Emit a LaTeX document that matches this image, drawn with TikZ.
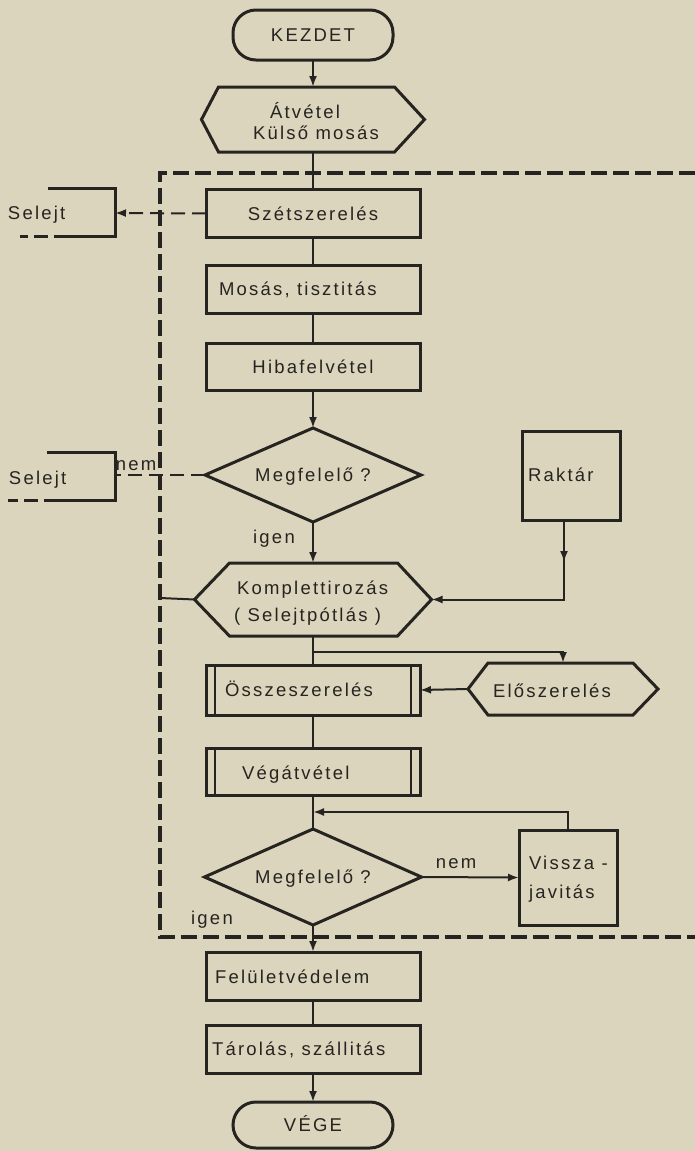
\documentclass[tikz,border=0pt]{standalone}
\usepackage{fontspec}
\setmainfont{Liberation Sans}[LetterSpace=12]
\usetikzlibrary{arrows.meta,shapes.geometric}
\definecolor{paper}{RGB}{220,213,189}
\definecolor{ink}{RGB}{38,36,32}
\begin{document}
\begin{tikzpicture}[x=1pt,y=-1pt,
  every node/.style={font=\fontsize{18.5}{22}\selectfont, text=ink, text height=13pt, text depth=0pt, inner sep=0pt, outer sep=0pt},
  boxn/.style={draw=ink, line width=3pt, rectangle, minimum width=214pt, minimum height=48pt},
  hexn/.style={draw=none, rectangle},
  dia/.style={draw=ink, line width=3pt, diamond, aspect=2.3},
  term/.style={draw=ink, line width=3pt, rectangle, rounded corners=23pt, minimum width=160pt},
  outline/.style={draw=ink, line width=3pt, line join=miter},
  conn/.style={draw=ink, line width=2pt},
  arr/.style={conn, -{Latex[length=11pt,width=8pt]}},
  dconn/.style={conn, dash pattern=on 14pt off 7pt},
  darr/.style={dconn, -{Latex[length=11pt,width=8pt]}},
  region/.style={draw=ink, line width=3.2pt, dash pattern=on 16pt off 6pt},
  lbl/.style={anchor=west}
]
\fill[paper] (0,0) rectangle (695,1151);
\useasboundingbox (0,0) rectangle (695,1151);

% dashed region
\draw[region] (695,173) -- (160,173) -- (160,937) -- (695,937);

% terminals
\node[term, minimum height=50pt] (kez) at (313,35) {KEZDET};
\node[term, minimum height=46pt] (vege) at (313,1125) {VÉGE};

% Atvetel hexagon
\node[hexn, minimum width=223pt, minimum height=65pt] (atv) at (313,119.5) {};
\draw[outline] (atv.west) -- ([xshift=17pt]atv.north west) -- ([xshift=-30pt]atv.north east) -- (atv.east) -- ([xshift=-30pt]atv.south east) -- ([xshift=17pt]atv.south west) -- cycle;
\node (t-atv1) at (305,112) {Átvétel};
\node (t-atv2) at (316,133) {Külső mosás};

% boxes
\node[boxn] (szet) at (313,213.5) {Szétszerelés};
\node[boxn] (mosas) at (313,289) {};
\node[lbl] (t-mosas) at (219,289) {Mosás, tisztitás};
\node[boxn, minimum height=47pt] (hiba) at (313,366.5) {Hibafelvétel};

% decision 1
\node[dia, minimum width=216pt, minimum height=94pt] (m1) at (313,475) {Megfelelő ?};
\node (t-igen1) at (274,537) {igen};

% Selejt 1
\coordinate (s1) at (115,213);
\draw[outline] (48,188) -- (115,188) -- (115,236) -- (68,236);
\draw[outline, dash pattern=on 14pt off 6pt] (68,236) -- (20,236);
\node[lbl] (t-sel1) at (8,213) {Selejt};
\draw[darr] (szet.west) -- (s1);

% Selejt 2
\coordinate (s2) at (115,475);
\draw[outline] (47,452) -- (115,452) -- (115,500) -- (58,500);
\draw[outline, dash pattern=on 14pt off 6pt] (58,500) -- (8,500);
\node[lbl] (t-sel2) at (9,478) {Selejt};
\node (t-nem1) at (136,464) {nem};
\draw[dconn] (m1.west) -- (s2);

% Raktar
\node[draw=ink, line width=3pt, rectangle, minimum width=98pt, minimum height=89pt] (raktar) at (571,475.5) {};
\node[lbl] (t-raktar) at (528,475) {Raktár};

% Komplettirozas hexagon
\node[hexn, minimum width=237pt, minimum height=73pt] (komp) at (313,599.5) {};
\draw[outline] (komp.west) -- ([xshift=35pt]komp.north west) -- ([xshift=-34pt]komp.north east) -- (komp.east) -- ([xshift=-34pt]komp.south east) -- ([xshift=35pt]komp.south west) -- cycle;
\node[lbl] (t-komp1) at (237,588) {Komplettirozás};
\node[lbl] (t-komp2) at (234,615) {( Selejtpótlás )};

\coordinate (rk) at ([xshift=-7pt]raktar.south);
\coordinate (rl) at (160,598);
\draw[arr] (rk) -- ++(0,42);
\draw[arr] (rk) |- (komp.east);
\draw[conn] (rl) -- (komp.west);

% Osszeszereles
\node[boxn, minimum height=50pt] (osz) at (313,690) {};
\draw[conn] ([xshift=9pt]osz.north west) -- ([xshift=9pt]osz.south west);
\draw[conn] ([xshift=-9pt]osz.north east) -- ([xshift=-9pt]osz.south east);
\node[lbl] (t-osz) at (225,690) {Összeszerelés};

% Eloszereles hexagon
\node[hexn, minimum width=190pt, minimum height=52pt] (elo) at (563,689) {};
\draw[outline] (elo.west) -- ([xshift=20pt]elo.north west) -- ([xshift=-25pt]elo.north east) -- (elo.east) -- ([xshift=-25pt]elo.south east) -- ([xshift=20pt]elo.south west) -- cycle;
\node (t-elo) at (552,691) {Előszerelés};

\coordinate (br) at (313,652);
\draw[arr] (br) -| (elo.north);
\draw[arr] (elo.west) -- (osz.east);

% Vegatvetel
\node[boxn, minimum height=47pt] (veg) at (313,771.5) {};
\draw[conn] ([xshift=9pt]veg.north west) -- ([xshift=9pt]veg.south west);
\draw[conn] ([xshift=-9pt]veg.north east) -- ([xshift=-9pt]veg.south east);
\node[lbl] (t-veg) at (242,773) {Végátvétel};

% decision 2
\node[dia, minimum width=217pt, minimum height=96pt] (m2) at (313,877) {Megfelelő ?};
\node (t-nem2) at (456,862) {nem};
\node (t-igen2) at (212,918) {igen};

% Vissza-javitas
\node[draw=ink, line width=3pt, rectangle, minimum width=98pt, minimum height=95pt] (vissza) at (568,877.5) {};
\node[lbl] (t-vis1) at (529,863) {Vissza -};
\node[lbl] (t-vis2) at (529,892) {javitás};

\coordinate (fb) at (313,812);
\draw[arr] (vissza.north) |- (fb);
\draw[arr] (m2.east) -- (vissza.west);

% Feluletvedelem, Tarolas
\node[boxn] (fel) at (313,976) {};
\node[lbl] (t-fel) at (215,977) {Felületvédelem};
\node[boxn] (tar) at (313,1049) {};
\node[lbl] (t-tar) at (212,1049) {Tárolás, szállitás};

% main connectors
\draw[arr] (kez.south) -- (atv.north);
\draw[conn] (atv.south) -- (szet.north);
\draw[conn] (szet.south) -- (mosas.north);
\draw[conn] (mosas.south) -- (hiba.north);
\draw[arr] (hiba.south) -- (m1.north);
\draw[arr] (m1.south) -- (komp.north);
\draw[conn] (komp.south) -- (osz.north);
\draw[conn] (osz.south) -- (veg.north);
\draw[conn] (veg.south) -- (m2.north);
\draw[arr] (m2.south) -- (fel.north);
\draw[conn] (fel.south) -- (tar.north);
\draw[arr] (tar.south) -- (vege.north);
\end{tikzpicture}
\end{document}
